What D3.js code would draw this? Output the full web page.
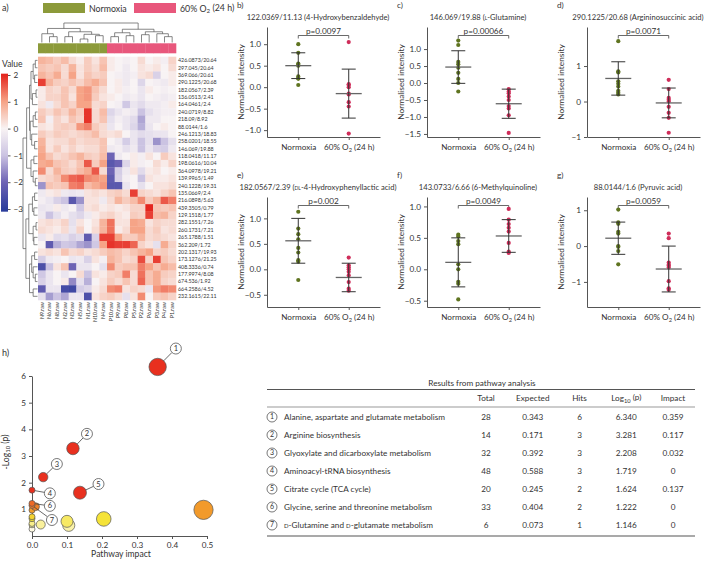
<!DOCTYPE html>
<meta charset="utf-8">
<style>
  body { margin: 0; background: #fff; }
  text { fill: #333; }
</style>
<body>
<svg id="fig" width="707" height="562"></svg>
<script src="https://d3js.org/d3.v7.min.js"></script>
<script>

// ---------- data: heatmap (panel a)
var colLabels = ["N9.raw","N6.raw","N8.raw","N2.raw","N3.raw","N5.raw","N1.raw","N10.raw","N4.raw",
                 "P10.raw","P9.raw","P8.raw","P5.raw","P2.raw","P6.raw","P3.raw","P4.raw","P1.raw"];
var colGroup = [0,0,0,0,0,0,0,0,0,1,1,1,1,1,1,1,1,1];
var rowLabels = ["426.0873/20.64","297.045/20.64","369.066/20.61","290.1225/20.68","182.0567/2.39",
  "136.0513/2.41","164.0461/2.4","240.0719/8.82","218.09/8.92","88.0144/1.6","246.1213/18.83",
  "258.0201/18.55","146.069/19.88","118.0418/11.17","198.0616/10.04","364.0978/19.21","139.9965/1.49",
  "240.1228/19.31","135.0669/2.4","216.0898/5.63","439.3505/0.79","129.1518/1.77","282.1551/7.26",
  "260.1731/7.21","265.1788/1.51","362.209/1.72","202.1317/19.93","173.1276/21.25","408.3336/0.74",
  "177.9974/8.08","674.536/1.92","664.2586/4.52","232.1615/22.11"];
var heatValues = [
  [0.8,0.7,0.5,0.7,0.3,0.1,0.5,0.2,0.6, 0.1,0,-0.1,0,0.3,0,0.1,-0.1,0.4],
  [0.6,0.5,0.6,0.3,0.8,0.2,0.5,0.3,0.7, 0.1,0,-0.2,0,0.2,0.1,0.2,0,0.3],
  [0.8,0.6,0.9,0.3,1.0,0.2,0.6,0.4,0.5, 0,-0.1,-0.2,-0.1,0.2,0.3,-0.7,0,0.1],
  [1.8,0.8,0.5,0.4,0.6,0.4,0.7,0.9,0.6, 0,0.1,-0.2,0,-0.6,0,-0.1,-0.2,0.1],
  [0.1,0.4,0.3,0.6,0.3,1.0,1.1,0.6,0.3, 0,0.1,-0.1,0,-0.3,0.1,0,-0.1,0],
  [0.1,0.4,0.4,0.6,0.2,1.0,1.1,0.5,0.2, 0.1,0,-0.2,-0.1,-0.3,0,-0.1,-0.2,-0.1],
  [0.2,-0.2,0.3,0.6,0.4,1.0,1.0,0.3,0.4, 0,-0.1,-0.9,-0.3,-0.5,-0.2,-0.2,-0.1,0.1],
  [0.5,0.3,0.6,0.4,0.8,0.5,1.9,0.3,0.7, -0.6,-0.3,-0.1,-0.2,-1.0,-0.4,-0.2,-0.1,-0.1],
  [0.6,-0.1,0.4,0.2,0.6,0.4,1.9,0.3,0.6, -0.4,-0.1,-0.3,-0.5,-1.3,-0.2,-0.2,0,0],
  [0.2,0.1,0.4,0.5,0.4,1.1,1.3,0.5,0.3, -0.3,0,-0.3,-0.6,-1.2,-0.3,0,0.1,0],
  [0.5,0.3,0.5,0.4,0.3,0.4,0.5,0.7,0.3, 0.2,0.3,0,-0.3,-0.5,-0.4,-0.3,-0.3,0],
  [0.8,0.2,0.3,0.3,0.5,0.3,0.4,0.4,0.6, 0,-0.2,-0.8,-0.3,-1.0,-0.4,-1.5,-1.0,-0.4],
  [0.9,0.2,0.5,0.2,0.4,0.2,0.3,0.3,0.6, -0.2,-0.1,-0.4,-0.2,-1.0,-0.3,-0.7,-0.8,-0.2],
  [1.0,0.6,0.3,0.4,0.6,0.8,0.5,0.4,0.7, -2.0,-0.2,0,0.1,-0.1,0.2,0,0.5,0.2],
  [0.9,1.0,0.6,0.5,0.3,0.6,1.6,0.5,1.0, -2.3,-2.0,-0.6,0.1,-0.1,0,0.3,0.1,0.4],
  [1.2,0.3,0.8,0.5,0.4,0.7,0.9,1.6,0.3, -2.0,-0.8,-0.2,0.2,-0.5,0.1,0.2,0,0.1],
  [0.3,0.4,0.6,1.2,1.5,1.6,1.2,1.1,1.0, -2.2,-0.7,-0.1,0,-1.0,0.2,0.1,0.1,0.2],
  [-1.5,0.6,0.5,0.6,1.3,1.4,0.7,0.9,1.1, -2.3,-2.3,-0.3,0,-0.4,0,0.2,0.2,0.3],
  [-0.2,0.1,0.2,-0.2,-0.3,-0.2,0.2,0.3,0.2, 0.4,0.5,0.3,1.8,0.4,0.3,0.2,0.4,0.6],
  [-0.1,-0.3,-0.7,-1.0,-2.3,-1.5,0.2,0.2,-0.2, 0.3,0.8,0.5,0.7,1.2,0.5,0.8,1.6,1.3],
  [-0.3,-0.2,0.1,-0.2,0,-0.9,0.2,0.3,0.1, 0.2,0.1,0.2,0.4,0.4,2.0,0.6,0.5,0.6],
  [-0.2,-1.0,-0.4,-0.1,-0.4,-0.6,-0.2,0.1,0.3, 0.4,0.2,0.1,0.5,0.4,1.8,0.7,0.8,0.4],
  [0.2,0.3,0.2,0.4,-0.4,0.2,0,0.2,0.8, 1.4,0.2,0.2,1.0,0.9,0.2,0.4,0.3,0.3],
  [0.3,0.2,0.1,0.3,-0.3,0.4,0,0.3,0.8, 1.4,0.1,0.3,1.0,1.0,0.3,0.5,0.2,0.3],
  [-0.3,0.1,-0.5,-0.4,-0.7,-0.5,-2.2,-0.7,1.8, 1.8,1.0,0.5,0.5,0.8,0.3,0.4,0.3,0.2],
  [0,-2.2,-1.2,-0.9,-1.0,-1.3,-1.5,-0.9,1.0, 1.9,1.8,1.8,1.5,0.4,0.2,-0.4,0.9,0.4],
  [0.2,0.3,0.2,0.6,0.3,0.4,0.2,0.3,0.5, 0.7,0.6,0.4,0.6,0.8,1.0,0.4,0.5,0.3],
  [-0.8,-0.2,-0.1,0,-0.3,-0.2,-0.7,0.2,-0.1, 0.8,0.6,0.3,0.4,1.7,0.4,1.8,0.6,0.4],
  [-2.5,-1.0,0.2,0.6,-2.0,-0.3,-0.3,0,-0.4, 1.2,0.5,0.6,0.6,1.3,1.0,0.6,0.9,0.7],
  [-0.9,-0.3,0,-0.3,0,0.3,-1.0,0.2,0.1, 0.4,0.5,1.3,0.3,1.4,0.6,0.9,0.5,0.4],
  [-0.7,-0.3,0,0.1,-1.6,-0.4,-1.2,0,0.2, 0.5,0.3,0.6,0.3,1.5,0.6,0.9,0.4,0.3],
  [-2.2,-0.3,-0.3,-2.6,-2.7,-0.8,-0.6,0.1,0.3, 1.2,1.3,0.2,0.4,0.3,-0.3,1.1,1.3,1.2],
  [-0.4,-1.4,-1.0,-1.3,-0.3,-0.3,-2.5,0.2,0.4, 0.5,0.3,-0.4,0.2,1.2,0,0.5,0.6,0.4]
];
// cluster trees: leaves are column / row indices, h = merge height (0..1)
var colTree = {h:1, c:[
  {h:0.72, c:[ {h:0.45, c:[0, {h:0.3, c:[1,2]}]},
               {h:0.55, c:[ {h:0.3, c:[3,4]}, {h:0.42, c:[ {h:0.18, c:[5,6]}, {h:0.35, c:[7,8]} ]} ]} ]},
  {h:0.68, c:[ {h:0.5, c:[ {h:0.3, c:[9,10]}, {h:0.35, c:[11,12]} ]},
               {h:0.55, c:[ {h:0.4, c:[13,14]}, {h:0.45, c:[15, {h:0.3, c:[16,17]}]} ]} ]}
]};
var rowTree = {h:1, c:[
  {h:0.75, c:[
    {h:0.55, c:[
      {h:0.45, c:[ {h:0.3, c:[{h:0.15, c:[0,1]}, {h:0.2, c:[2,3]}]}, {h:0.35, c:[{h:0.1, c:[4,5]}, 6]} ]},
      {h:0.5, c:[ {h:0.3, c:[{h:0.15, c:[7,8]}, 9]}, {h:0.4, c:[10, {h:0.2, c:[11,12]}]} ]} ]},
    {h:0.45, c:[ {h:0.25, c:[13,14]}, {h:0.3, c:[15, {h:0.15, c:[16,17]}]} ]} ]},
  {h:0.8, c:[
    {h:0.6, c:[ {h:0.35, c:[{h:0.2, c:[18,19]}, {h:0.25, c:[20,21]}]},
                {h:0.3, c:[{h:0.1, c:[22,23]}, {h:0.25, c:[24,25]}]} ]},
    {h:0.55, c:[ {h:0.4, c:[{h:0.2, c:[26,27]}, {h:0.3, c:[28, {h:0.15, c:[29,30]}]}]},
                 {h:0.3, c:[31,32]} ]} ]}
]};
var keyTicks = [-3,-2,-1,0,1,2];

// ---------- data: dot plots (panels b-g)
var panelTags = ["b)","c)","d)","e)","f)","g)"];
var panelTitles = ["122.0369/11.13 (4-Hydroxybenzaldehyde)", "146.069/19.88 (|l|-Glutamine)",
  "290.1225/20.68 (Argininosuccinic acid)", "182.0567/2.39 (|dl|-4-Hydroxyphenyllactic acid)",
  "143.0733/6.66 (6-Methylquinoline)", "88.0144/1.6 (Pyruvic acid)"];
var pLabels = ["p=0.0097","p=0.00066","p=0.0071","p=0.002","p=0.0049","p=0.0059"];
var normoxiaVals = [
  [1.0,0.8,0.55,0.52,0.5,0.25,0.2,0.2,0.05],
  [1.25,1.12,0.62,0.55,0.45,0.3,0.12,0.0,-0.25],
  [1.7,0.85,0.82,0.57,0.5,0.42,0.3,0.25,0.2],
  [1.13,0.8,0.69,0.59,0.42,0.33,0.18,0.15,-0.21],
  [0.55,0.52,0.45,0.4,0.08,0.0,-0.2,-0.23,-0.48],
  [1.02,0.66,0.62,0.4,0.35,0.0,-0.02,-0.14,-0.51]
];
var hyperoxiaVals = [
  [1.05,0.07,0.05,0.0,-0.15,-0.17,-0.35,-0.45,-1.08],
  [-0.18,-0.25,-0.3,-0.4,-0.5,-0.68,-0.75,-0.95,-1.47],
  [0.61,0.35,0.1,0.05,0.0,-0.15,-0.32,-0.46,-0.88],
  [0.23,0.08,0.04,0.0,-0.05,-0.12,-0.25,-0.38,-0.42],
  [0.96,0.79,0.72,0.66,0.6,0.42,0.28,0.26],
  [0.35,0.22,-0.46,-0.52,-0.55,-0.6,-0.98,-1.18,-1.22]
];
var groupMeans = [[0.5,-0.15],[0.47,-0.61],[0.65,-0.04],[0.56,-0.16],[0.11,0.53],[0.22,-0.64]];
var groupSDs   = [[0.3,0.57],[0.48,0.43],[0.47,0.42],[0.44,0.28],[0.39,0.26],[0.45,0.64]];
var yDomains = [[-1.16,1.4],[-1.59,1.65],[-1.0,2.1],[-0.74,1.42],[-0.6,1.15],[-1.7,1.37]];
var yTickVals = [[-1,-0.5,0,0.5,1],[-1.5,-1,-0.5,0,0.5,1],[-1,0,1],[-0.5,0,0.5,1],[-0.5,0,0.5,1],[-1,0,1]];
var yTickFmt = [".1f",".1f","d",".1f",".1f","d"];

// ---------- data: pathway analysis (panel h + table)
var pathNames = ["Alanine, aspartate and glutamate metabolism","Arginine biosynthesis",
  "Glyoxylate and dicarboxylate metabolism","Aminoacyl-tRNA biosynthesis","Citrate cycle (TCA cycle)",
  "Glycine, serine and threonine metabolism","|d|-Glutamine and |d|-glutamate metabolism"];
var pathTotal = [28,14,32,48,20,33,6];
var pathExpected = [0.343,0.171,0.392,0.588,0.245,0.404,0.073];
var pathHits = [6,3,3,3,2,2,1];
var pathLogP = [6.340,3.281,2.208,1.719,1.624,1.222,1.146];
var pathImpact = [0.359,0.117,0.032,0,0.137,0,0];
// other (unlabelled) pathways in the bubble plot
var otherImpact = [0.49,0.01,0,0.205,0.1,0.105,0.025,0,0,0,0,0];
var otherLogP   = [0.98,1.1,0.97,0.64,0.55,0.4,0.43,0.72,0.65,0.47,0.42,0.26];
// where the circled numbers sit (data units)
var labelImpact = [0.411,0.157,0.071,0.051,0.19,0.051,0.057];
var labelLogP   = [7.03,3.83,2.7,1.6,1.95,1.13,0.6];

// ---------- drawing
var FONT = "Lato, 'Noto Sans', sans-serif";
var FS = 8.2;
var svg = d3.select("#fig").attr("font-family", FONT);
var greenC = "#8c9a3a", pinkC = "#e8577c";
var dotGreen = "#5f7420", dotPink = "#cf2d5a";

// write text that may carry a subscript 2 (O2) or small caps (|x|)
function richText(sel, str) {
  sel.text(null);
  var parts = str.split("|");
  parts.forEach(function(p, k) {
    if (!p) return;
    if (k % 2 == 1) { sel.append("tspan").style("font-variant", "small-caps").text(p); return; }
    var bits = p.split("O2");
    bits.forEach(function(b, j) {
      if (j > 0) {
        sel.append("tspan").text("O");
        sel.append("tspan").attr("font-size", "0.7em").attr("dy", "0.3em").text("2");
        sel.append("tspan").attr("dy", "-0.3em").text(b);
      } else if (b) sel.append("tspan").text(b);
    });
  });
}
function styleAxis(a) {
  a.selectAll("text").attr("font-size", FS).attr("font-family", FONT).attr("fill", "#333");
  a.selectAll("line,path").attr("stroke", "#555");
}

// ===== panel a
svg.append("text").attr("x", 2).attr("y", 11).attr("font-size", 9).text("a)");
var leg = svg.append("g").attr("font-size", 8.8);
leg.append("rect").attr("x", 43).attr("y", 3).attr("width", 42).attr("height", 10).attr("fill", greenC);
leg.append("text").attr("x", 89).attr("y", 11.5).text("Normoxia");
leg.append("rect").attr("x", 134).attr("y", 3).attr("width", 42).attr("height", 10).attr("fill", pinkC);
leg.append("text").attr("x", 180).attr("y", 11.5).call(richText, "60% O2 (24 h)");

var hx = d3.scaleBand().domain(d3.range(colLabels.length)).range([38, 176]);
var hy = d3.scaleBand().domain(d3.range(rowLabels.length)).range([56.7, 300]);
var heatColor = d3.scaleLinear().domain([-3,-2,-1,0,1,2])
  .range(["#2c3d9c","#6d63b4","#cbc3e2","#f8f3f4","#f6a487","#e4261f"]).clamp(true);

var cells = [];
heatValues.forEach(function(r, i) { r.forEach(function(v, j) { cells.push({i:i, j:j, v:v}); }); });
svg.append("g").selectAll("rect").data(cells).enter().append("rect")
  .attr("x", function(d) { return hx(d.j); })
  .attr("y", function(d) { return hy(d.i); })
  .attr("width", hx.bandwidth() + 0.3)
  .attr("height", hy.bandwidth() + 0.3)
  .attr("fill", function(d) { return heatColor(d.v); });

// group colour bar
svg.append("g").selectAll("rect").data(colGroup).enter().append("rect")
  .attr("x", function(d, j) { return hx(j); })
  .attr("y", 43.3).attr("width", hx.bandwidth() + 0.3).attr("height", 10)
  .attr("fill", function(d) { return d ? pinkC : greenC; });

svg.append("g").attr("font-size", 5.3).selectAll("text").data(rowLabels).enter().append("text")
  .attr("x", 178).attr("y", function(d, i) { return hy(i) + hy.bandwidth() / 2; })
  .attr("dy", "0.35em").text(function(d) { return d; });

svg.append("g").attr("font-size", 5.3).selectAll("text").data(colLabels).enter().append("text")
  .attr("transform", function(d, j) { return "translate(" + (hx(j) + hx.bandwidth() / 2) + ",302) rotate(-90)"; })
  .attr("text-anchor", "end").attr("dy", "0.35em").text(function(d) { return d; });

// dendrograms
function layoutTree(node, pos) {
  if (typeof node === "number") return {p: pos(node), h: 0};
  var kids = node.c.map(function(k) { return layoutTree(k, pos); });
  return {p: (kids[0].p + kids[kids.length - 1].p) / 2, h: node.h, kids: kids};
}
function treeSegs(n, out) {
  if (!n.kids) return out;
  out.push([n.kids[0].p, n.h, n.kids[n.kids.length - 1].p, n.h]);
  n.kids.forEach(function(k) { out.push([k.p, n.h, k.p, k.h]); treeSegs(k, out); });
  return out;
}
var colDendY = d3.scaleLinear().domain([0, 1]).range([42.5, 23]);
var colSegs = treeSegs(layoutTree(colTree, function(j) { return hx(j) + hx.bandwidth() / 2; }), []);
svg.append("g").selectAll("line").data(colSegs).enter().append("line")
  .attr("x1", function(s) { return s[0]; }).attr("y1", function(s) { return colDendY(s[1]); })
  .attr("x2", function(s) { return s[2]; }).attr("y2", function(s) { return colDendY(s[3]); })
  .attr("stroke", "#555").attr("stroke-width", 0.7);

var rowDendX = d3.scaleLinear().domain([0, 1]).range([37.5, 23]);
var rowSegs = treeSegs(layoutTree(rowTree, function(i) { return hy(i) + hy.bandwidth() / 2; }), []);
svg.append("g").selectAll("line").data(rowSegs).enter().append("line")
  .attr("y1", function(s) { return s[0]; }).attr("x1", function(s) { return rowDendX(s[1]); })
  .attr("y2", function(s) { return s[2]; }).attr("x2", function(s) { return rowDendX(s[3]); })
  .attr("stroke", "#555").attr("stroke-width", 0.7);

// colour key
var keyY = d3.scaleLinear().domain([-3, 2]).range([209, 75]);
var grad = svg.append("defs").append("linearGradient").attr("id", "keygrad")
  .attr("x1", 0).attr("y1", 1).attr("x2", 0).attr("y2", 0);
d3.range(-3.1, 2.06, 0.1).forEach(function(v) {
  grad.append("stop").attr("offset", (v + 3.1) / 5.15).attr("stop-color", heatColor(v));
});
svg.append("rect").attr("x", 1).attr("y", keyY(2.05)).attr("width", 7)
  .attr("height", keyY(-3.1) - keyY(2.05)).attr("fill", "url(#keygrad)");
var keyAxis = svg.append("g").attr("transform", "translate(8,0)")
  .call(d3.axisRight(keyY).tickValues(keyTicks).tickSize(2.5).tickFormat(d3.format("d")));
keyAxis.select(".domain").remove();
styleAxis(keyAxis);
svg.append("text").attr("x", 2).attr("y", 67).attr("font-size", 8.5).text("Value");

// ===== panels b-g
panelTags.forEach(function(tag, i) {
  var col = i % 3, row = Math.floor(i / 3);
  var x0 = 235 + col * 160, y0 = row ? 170 : 0;
  var g = svg.append("g").attr("transform", "translate(" + x0 + "," + y0 + ")").attr("font-size", FS);
  var y = d3.scaleLinear().domain(yDomains[i]).range([137, 27]);
  var x = d3.scalePoint().domain(["Normoxia", "O2"]).range([32, 145]).padding(0.62);

  g.append("text").attr("x", 2).attr("y", 8).text(tag);
  g.append("text").attr("x", 83).attr("y", 19.5).attr("text-anchor", "middle").attr("font-size", 7.6)
    .call(richText, panelTitles[i]);

  var ya = g.append("g").attr("transform", "translate(32,0)")
    .call(d3.axisLeft(y).tickValues(yTickVals[i]).tickSize(3).tickSizeOuter(0).tickFormat(d3.format(yTickFmt[i])));
  var xa = g.append("g").attr("transform", "translate(0,137)")
    .call(d3.axisBottom(x).tickSize(3).tickSizeOuter(0));
  styleAxis(ya);
  styleAxis(xa);
  xa.selectAll(".tick text").attr("dy", "0.9em").each(function(d) {
    if (d === "O2") richText(d3.select(this), "60% O2 (24 h)");
  });

  g.append("text").attr("transform", "translate(8.5,82) rotate(-90)").attr("text-anchor", "middle")
    .attr("font-size", 8.4).text("Normalised intensity");

  // significance bracket
  g.append("path").attr("fill", "none").attr("stroke", "#444").attr("stroke-width", 0.8)
    .attr("d", "M" + x("Normoxia") + ",38.5V35.5H" + x("O2") + "V38.5");
  g.append("text").attr("x", (x("Normoxia") + x("O2")) / 2).attr("y", 33.5)
    .attr("text-anchor", "middle").text(pLabels[i]);

  var sets = [normoxiaVals[i], hyperoxiaVals[i]];
  ["Normoxia", "O2"].forEach(function(grp, k) {
    var cx = x(grp), m = groupMeans[i][k], s = groupSDs[i][k];
    g.append("g").selectAll("circle").data(sets[k]).enter().append("circle")
      .attr("cx", cx).attr("cy", function(v) { return y(v); }).attr("r", 2.1)
      .attr("fill", k ? dotPink : dotGreen);
    g.append("line").attr("x1", cx - 13).attr("x2", cx + 13).attr("y1", y(m)).attr("y2", y(m))
      .attr("stroke", "#666").attr("stroke-width", 1.3);
    g.append("line").attr("x1", cx).attr("x2", cx).attr("y1", y(m - s)).attr("y2", y(m + s))
      .attr("stroke", "#333").attr("stroke-width", 1);
    [m - s, m + s].forEach(function(v) {
      g.append("line").attr("x1", cx - 7).attr("x2", cx + 7).attr("y1", y(v)).attr("y2", y(v))
        .attr("stroke", "#333").attr("stroke-width", 1);
    });
  });
});

// ===== panel h
var hX = d3.scaleLinear().domain([0, 0.5]).range([32, 207]);
var hY = d3.scaleLinear().domain([0, 6]).range([536, 376]);
var rS = d3.scaleSqrt().domain([0, 0.5]).range([3, 9.7]);
var cS = d3.scaleLinear().domain([0.25, 0.45, 0.65, 1.0, 1.5])
  .range(["#fffbe8", "#f8ef94", "#f5e233", "#f2962a", "#e8301f"]).clamp(true);

svg.append("text").attr("x", 2).attr("y", 356).attr("font-size", 9).text("h)");
var hxa = svg.append("g").attr("transform", "translate(0,536)")
  .call(d3.axisBottom(hX).tickValues([0, 0.1, 0.2, 0.3, 0.4, 0.5]).tickSize(3).tickSizeOuter(0).tickFormat(d3.format(".1f")));
var hya = svg.append("g").attr("transform", "translate(32,0)")
  .call(d3.axisLeft(hY).tickValues([1, 2, 3, 4, 5, 6]).tickSize(3).tickSizeOuter(0).tickFormat(d3.format("d")));
styleAxis(hxa);
styleAxis(hya);
svg.append("text").attr("x", 121).attr("y", 557).attr("text-anchor", "middle").attr("font-size", 8.6)
  .text("Pathway impact");
var yl = svg.append("text").attr("transform", "translate(8.5,452) rotate(-90)").attr("text-anchor", "middle")
  .attr("font-size", 8.6);
yl.append("tspan").text("-Log");
yl.append("tspan").attr("font-size", "0.7em").attr("dy", "0.3em").text("10");
yl.append("tspan").attr("dy", "-0.3em").text(" (p)");

var bubbles = [];
pathImpact.forEach(function(v, k) { bubbles.push({imp: v, lp: pathLogP[k]}); });
otherImpact.forEach(function(v, k) { bubbles.push({imp: v, lp: otherLogP[k]}); });
bubbles.sort(function(a, b) { return a.lp - b.lp; });
svg.append("g").selectAll("circle").data(bubbles).enter().append("circle")
  .attr("cx", function(d) { return hX(d.imp); }).attr("cy", function(d) { return hY(d.lp); })
  .attr("r", function(d) { return rS(d.imp); })
  .attr("fill", function(d) { return cS(d.lp); })
  .attr("stroke", "#555").attr("stroke-width", 0.7);

var lab = svg.append("g").attr("font-size", 7.5);
pathLogP.forEach(function(lp, k) {
  var px = hX(pathImpact[k]), py = hY(lp), lx = hX(labelImpact[k]), ly = hY(labelLogP[k]);
  var ang = Math.atan2(ly - py, lx - px), r0 = rS(pathImpact[k]);
  lab.append("line").attr("x1", px + r0 * Math.cos(ang)).attr("y1", py + r0 * Math.sin(ang))
    .attr("x2", lx - 5.5 * Math.cos(ang)).attr("y2", ly - 5.5 * Math.sin(ang))
    .attr("stroke", "#444").attr("stroke-width", 0.8);
  lab.append("circle").attr("cx", lx).attr("cy", ly).attr("r", 5.5).attr("fill", "#fff")
    .attr("stroke", "#555").attr("stroke-width", 0.8);
  lab.append("text").attr("x", lx).attr("y", ly).attr("dy", "0.35em").attr("text-anchor", "middle").text(k + 1);
});

// ===== table
var tCols = ["Total", "Expected", "Hits", "Log", "Impact"];
var tx = d3.scalePoint().domain(tCols).range([486, 673]);
var ty = d3.scalePoint().domain(d3.range(pathNames.length)).range([417, 525]);
var tbl = svg.append("g").attr("font-size", FS);
tbl.append("text").attr("x", 482).attr("y", 385.5).attr("text-anchor", "middle").text("Results from pathway analysis");
tbl.append("line").attr("x1", 267).attr("x2", 695).attr("y1", 389.5).attr("y2", 389.5).attr("stroke", "#555").attr("stroke-width", 1.2);
tbl.append("line").attr("x1", 267).attr("x2", 695).attr("y1", 407).attr("y2", 407).attr("stroke", "#999").attr("stroke-width", 1);
tbl.append("line").attr("x1", 267).attr("x2", 695).attr("y1", 536).attr("y2", 536).attr("stroke", "#555").attr("stroke-width", 1.2);
tCols.forEach(function(c) {
  var t = tbl.append("text").attr("x", tx(c)).attr("y", 398).attr("dy", "0.35em").attr("text-anchor", "middle");
  if (c === "Log") {
    t.append("tspan").text("Log");
    t.append("tspan").attr("font-size", "0.7em").attr("dy", "0.3em").text("10");
    t.append("tspan").attr("dy", "-0.3em").text(" (p)");
  } else t.text(c);
});
var f3 = d3.format(".3f");
pathNames.forEach(function(name, k) {
  var yy = ty(k);
  tbl.append("circle").attr("cx", 272).attr("cy", yy).attr("r", 5).attr("fill", "none").attr("stroke", "#555").attr("stroke-width", 0.8);
  tbl.append("text").attr("x", 272).attr("y", yy).attr("dy", "0.35em").attr("text-anchor", "middle").attr("font-size", 7).text(k + 1);
  tbl.append("text").attr("x", 284).attr("y", yy).attr("dy", "0.35em").call(richText, name);
  var vals = [pathTotal[k], f3(pathExpected[k]), pathHits[k], f3(pathLogP[k]),
              pathImpact[k] === 0 ? "0" : f3(pathImpact[k])];
  tCols.forEach(function(c, j) {
    tbl.append("text").attr("x", tx(c)).attr("y", yy).attr("dy", "0.35em").attr("text-anchor", "middle").text(vals[j]);
  });
});

</script>
</body>
